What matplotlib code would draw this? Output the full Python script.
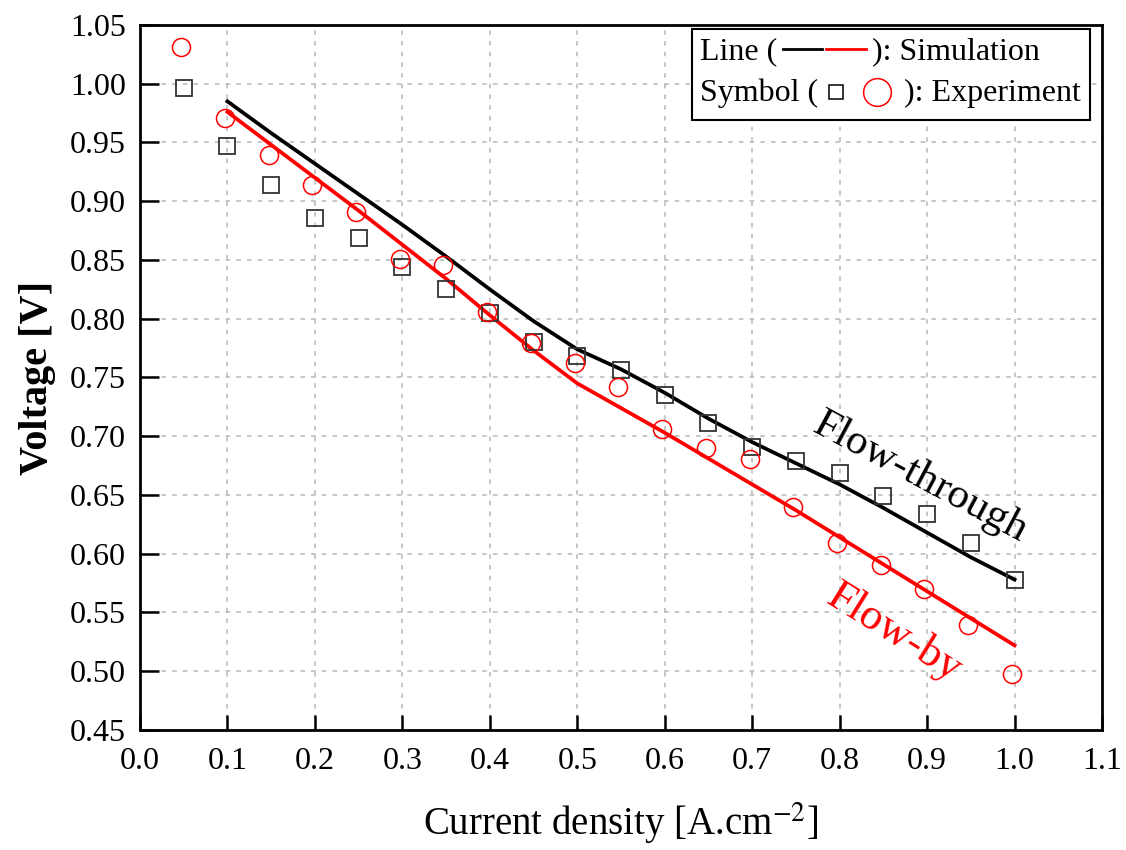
import matplotlib
matplotlib.use("Agg")
import matplotlib.pyplot as plt
import matplotlib.lines as mlines
from matplotlib.offsetbox import (AnchoredOffsetbox, DrawingArea, HPacker,
                                  TextArea, VPacker)

plt.rcParams['font.family'] = ['Liberation Serif', 'DejaVu Serif']
plt.rcParams['mathtext.fontset'] = 'stix'

# simulation lines
sim_x = [0.10, 0.15, 0.20, 0.25, 0.30, 0.35, 0.40, 0.45, 0.50, 0.55,
         0.60, 0.65, 0.70, 0.75, 0.80, 0.85, 0.90, 0.95, 1.00]
sim_through = [0.985, 0.958, 0.932, 0.906, 0.880, 0.853, 0.825, 0.798, 0.774, 0.757,
               0.737, 0.715, 0.695, 0.677, 0.659, 0.639, 0.618, 0.597, 0.578]
sim_by = [0.976, 0.948, 0.920, 0.892, 0.863, 0.834, 0.803, 0.773, 0.745, 0.724,
          0.703, 0.681, 0.659, 0.637, 0.614, 0.591, 0.568, 0.545, 0.522]

# experiment symbols
exp_x = [0.05, 0.10, 0.15, 0.20, 0.25, 0.30, 0.35, 0.40, 0.45, 0.50,
         0.55, 0.60, 0.65, 0.70, 0.75, 0.80, 0.85, 0.90, 0.95, 1.00]
exp_through = [0.996, 0.947, 0.914, 0.886, 0.869, 0.844, 0.825, 0.805, 0.780, 0.768,
               0.756, 0.735, 0.711, 0.691, 0.679, 0.669, 0.649, 0.634, 0.609, 0.578]
exp_by = [1.031, 0.971, 0.939, 0.914, 0.891, 0.851, 0.846, 0.806, 0.779, 0.762,
          0.742, 0.706, 0.690, 0.681, 0.640, 0.609, 0.590, 0.570, 0.539, 0.498]

x_ticks = [0.0, 0.1, 0.2, 0.3, 0.4, 0.5, 0.6, 0.7, 0.8, 0.9, 1.0, 1.1]
y_ticks = [0.45, 0.50, 0.55, 0.60, 0.65, 0.70, 0.75, 0.80, 0.85, 0.90, 0.95, 1.00, 1.05]

RED = '#ff0000'

fig = plt.figure(figsize=(11.26, 8.5), dpi=100)
ax = fig.add_axes([0.1243, 0.1412, 0.8544, 0.8294])

ax.plot(sim_x, sim_through, color='black', lw=2.7, zorder=3)
ax.plot(sim_x, sim_by, color=RED, lw=2.7, zorder=3)
ax.plot(exp_x, exp_through, ls='none', marker='s', ms=12, mfc='none',
        mec='#333333', mew=1.3, zorder=4)
ax.plot([x - 0.003 for x in exp_x], exp_by, ls='none', marker='o', ms=13,
        mfc='none', mec=RED, mew=1.1, zorder=4)

ax.set_xlim(0.0, 1.1)
ax.set_ylim(0.45, 1.05)
ax.set_xticks(x_ticks)
ax.set_yticks(y_ticks)
ax.set_xticklabels([f"{v:.1f}" for v in x_ticks])
ax.set_yticklabels([f"{v:.2f}" for v in y_ticks])
ax.tick_params(direction='in', length=11, width=1.8, labelsize=23, pad=12)
ax.tick_params(axis='y', length=14, pad=10)
ax.grid(True, ls=(0, (3, 4)), color='#b8b8b8', lw=1.1)
for s in ax.spines.values():
    s.set_linewidth(2.0)

ax.set_xlabel("Current density [A.cm$^{-2}$]", fontsize=28, labelpad=18)
ax.set_ylabel("Voltage [V]", fontsize=29, fontweight='bold', labelpad=10)

ax.text(0.893, 0.665, "Flow-through", rotation=-28, fontsize=31,
        ha='center', va='center', color='black', rotation_mode='anchor')
ax.text(0.863, 0.533, "Flow-by", rotation=-32, fontsize=32,
        ha='center', va='center', color=RED, rotation_mode='anchor')

# legend box
fs = 23
da1 = DrawingArea(64, 20, 0, 0)
da1.add_artist(mlines.Line2D([2, 30], [12, 12], color='black', lw=2.0))
da1.add_artist(mlines.Line2D([33, 62], [12, 12], color=RED, lw=2.0))
row1 = HPacker(children=[TextArea("Line (", textprops=dict(fontsize=fs)), da1,
                         TextArea("): Simulation", textprops=dict(fontsize=fs))],
               align='center', pad=0, sep=2)
da2 = DrawingArea(58, 26, 0, 0)
da2.add_artist(mlines.Line2D([11], [14], marker='s', ms=10, mfc='none',
                             mec='black', mew=1.1))
da2.add_artist(mlines.Line2D([40], [14], marker='o', ms=20, mfc='none',
                             mec=RED, mew=1.1))
row2 = HPacker(children=[TextArea("Symbol (", textprops=dict(fontsize=fs)), da2,
                         TextArea("): Experiment", textprops=dict(fontsize=fs))],
               align='center', pad=0, sep=2)
box = VPacker(children=[row1, row2], align='left', pad=0, sep=7)
anchored = AnchoredOffsetbox(loc='upper right', child=box, pad=0.6, frameon=True,
                             bbox_to_anchor=(0.987, 0.995),
                             bbox_transform=ax.transAxes, borderpad=0)
anchored.patch.set_edgecolor('black')
anchored.patch.set_linewidth(1.5)
anchored.patch.set_boxstyle('square', pad=0)
ax.add_artist(anchored)

fig.savefig("out.png", dpi=100)
